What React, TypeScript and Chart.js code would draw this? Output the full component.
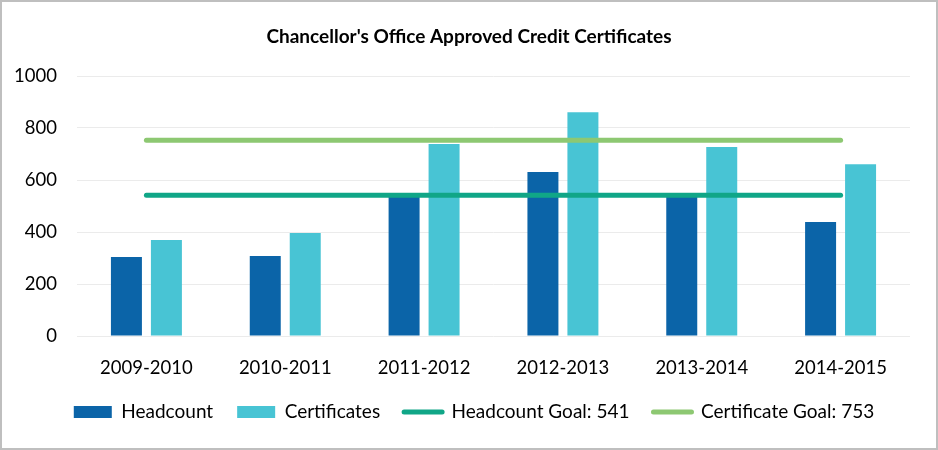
import React, { useEffect, useRef } from "react";
import { Chart, registerables } from "chart.js";

Chart.register(...registerables);

const categories = ["2009-2010", "2010-2011", "2011-2012", "2012-2013", "2013-2014", "2014-2015"];
const headcount = [304, 308, 545, 631, 545, 438];
const certificates = [369, 396, 738, 861, 727, 661];
const headcountGoal = [541, 541, 541, 541, 541, 541];
const certificateGoal = [753, 753, 753, 753, 753, 753];
const yMin = 0;
const yMax = 1000;
const yStep = 200;

const FONT = "Lato, 'Open Sans', sans-serif";

const shiftBoxes = {
  id: "shiftBoxes",
  afterLayout(chart: any) {
    if (chart.titleBlock) {
      chart.titleBlock.left += 13;
      chart.titleBlock.right += 13;
    }
    if (chart.legend) {
      chart.legend.left += 18;
      chart.legend.right += 18;
    }
  },
};

export default function App() {
  const ref = useRef<HTMLCanvasElement | null>(null);

  useEffect(() => {
    if (!ref.current) return;
    const chart = new Chart(ref.current, {
      type: "bar",
      data: {
        labels: categories,
        datasets: [
          {
            type: "bar",
            label: "Headcount",
            data: headcount,
            backgroundColor: "#0b64a8",
            borderWidth: 0,
            order: 2,
            categoryPercentage: 0.576,
            barPercentage: 0.775,
          },
          {
            type: "bar",
            label: "Certificates",
            data: certificates,
            backgroundColor: "#48c4d4",
            borderWidth: 0,
            order: 2,
            categoryPercentage: 0.576,
            barPercentage: 0.775,
          },
          {
            type: "line",
            label: "Headcount Goal: 541",
            data: headcountGoal,
            borderColor: "#10a687",
            backgroundColor: "#10a687",
            borderWidth: 5,
            borderCapStyle: "round",
            pointRadius: 0,
            pointStyle: "line",
            order: 1,
          },
          {
            type: "line",
            label: "Certificate Goal: 753",
            data: certificateGoal,
            borderColor: "#8dc872",
            backgroundColor: "#8dc872",
            borderWidth: 5,
            borderCapStyle: "round",
            pointRadius: 0,
            pointStyle: "line",
            order: 1,
          },
        ],
      } as any,
      options: {
        animation: false,
        responsive: false,
        devicePixelRatio: 1,
        layout: { padding: { left: 0, right: 26, top: 0, bottom: 16.5 } },
        plugins: {
          title: {
            display: true,
            text: "Chancellor's Office Approved Credit Certificates",
            color: "#000",
            font: { family: FONT, size: 19, weight: "bold" },
            padding: { top: 23.6, bottom: 27.6 },
          },
          legend: {
            position: "bottom",
            labels: {
              usePointStyle: true,
              pointStyleWidth: 38,
              boxHeight: 12,
              padding: 24,
              color: "#000",
              font: { family: FONT, size: 19 },
              sort: (a: any, b: any) => a.datasetIndex - b.datasetIndex,
              generateLabels: (c: any) => {
                const items = Chart.defaults.plugins.legend.labels.generateLabels(c);
                return items.map((it: any) => {
                  const ds = c.data.datasets[it.datasetIndex];
                  if (ds.type === "bar") {
                    return { ...it, pointStyle: "rect", lineWidth: 0 };
                  }
                  return { ...it, pointStyle: "line", lineWidth: 5, lineCap: "round" };
                });
              },
            },
          },
          tooltip: { enabled: false },
        },
        scales: {
          x: {
            grid: { display: false, drawTicks: false },
            border: { display: false },
            ticks: { color: "#000", font: { family: FONT, size: 18.5 }, padding: 21, maxRotation: 0 },
            afterFit: (s: any) => {
              s.height = 42.5;
            },
          },
          y: {
            min: yMin,
            max: yMax,
            grid: { color: "#ebebeb", lineWidth: 1, drawTicks: false },
            border: { display: false },
            ticks: {
              stepSize: yStep,
              color: "#000",
              font: { family: FONT, size: 18.5 },
              padding: 20,
              callback: (v: any) => String(v),
            },
            afterFit: (s: any) => {
              s.width = 75;
            },
          },
        },
      } as any,
      plugins: [shiftBoxes],
    });
    return () => chart.destroy();
  }, []);

  return (
    <div
      style={{
        position: "absolute",
        left: 0,
        top: 0,
        width: 938,
        height: 450,
        boxSizing: "border-box",
        border: "2px solid #bfbfbf",
        background: "#fff",
      }}
    >
      <canvas ref={ref} width={934} height={446} style={{ display: "block" }} />
    </div>
  );
}
